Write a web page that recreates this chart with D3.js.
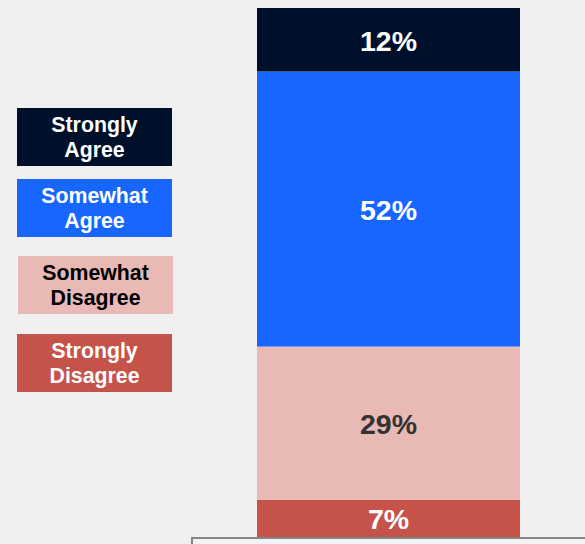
<!DOCTYPE html>
<html>
<head>
<meta charset="utf-8">
<script src="https://cdn.jsdelivr.net/npm/d3@7"></script>
<style>
  html, body { margin: 0; padding: 0; background: #f0f0f0; }
  svg { display: block; }
  text { font-family: "Liberation Sans", Arial, sans-serif; font-weight: bold; }
</style>
</head>
<body>
<svg id="chart" width="585" height="544"></svg>
<script>
// Response categories, top to bottom of the stacked bar
const categories = ["Strongly Agree", "Somewhat Agree", "Somewhat Disagree", "Strongly Disagree"];
const legendLines = [["Strongly", "Agree"], ["Somewhat", "Agree"], ["Somewhat", "Disagree"], ["Strongly", "Disagree"]];
const shares = [12, 52, 29, 7];
const fills = ["#00102a", "#1766ff", "#e9b9b5", "#c5534a"];
const labelColors = ["#ffffff", "#ffffff", "#333333", "#ffffff"];
const legendTextColors = ["#ffffff", "#ffffff", "#000000", "#ffffff"];

const svg = d3.select("#chart");

// One stacked column; the first category sits at the top
const row = {};
categories.forEach((c, i) => row[c] = shares[i]);
const stack = d3.stack().keys(categories.slice().reverse());
const layers = stack([row]);

const x = d3.scaleBand().domain(["all"]).range([257, 520]).padding(0);
const y = d3.scaleLinear().domain([0, 100]).range([537, 8]);
const color = d3.scaleOrdinal().domain(categories).range(fills);
const labelColor = d3.scaleOrdinal().domain(categories).range(labelColors);

const seg = svg.append("g").selectAll("g")
  .data(layers)
  .join("g");

seg.append("rect")
  .attr("x", x("all"))
  .attr("width", x.bandwidth())
  .attr("y", d => y(d[0][1]))
  .attr("height", d => y(d[0][0]) - y(d[0][1]))
  .attr("fill", d => color(d.key));

seg.append("text")
  .attr("x", x("all") + x.bandwidth() / 2)
  .attr("y", d => (y(d[0][0]) + y(d[0][1])) / 2)
  .attr("dy", "0.38em")
  .attr("text-anchor", "middle")
  .attr("font-size", 28.5)
  .attr("fill", d => labelColor(d.key))
  .text(d => d[0].data[d.key] + "%");

// Legend boxes on the left
const legendX = [17, 17, 18, 17];
const legendY = [108, 179, 256, 334];

const lg = svg.append("g").selectAll("g")
  .data(categories)
  .join("g")
  .attr("transform", (d, i) => `translate(${legendX[i]},${legendY[i]})`);

lg.append("rect")
  .attr("width", 155)
  .attr("height", 58)
  .attr("fill", d => color(d));

lg.append("text")
  .attr("text-anchor", "middle")
  .attr("font-size", 21.3)
  .attr("fill", (d, i) => legendTextColors[i])
  .selectAll("tspan")
  .data((d, i) => legendLines[i])
  .join("tspan")
  .attr("x", 77.5)
  .attr("y", (t, j) => 23.5 + j * 25)
  .text(t => t);

// Panel edge along the bottom
svg.append("rect")
  .attr("x", 192)
  .attr("y", 538)
  .attr("width", 400)
  .attr("height", 20)
  .attr("fill", "#f3f3f3")
  .attr("stroke", "#858585")
  .attr("stroke-width", 2);
</script>
</body>
</html>
